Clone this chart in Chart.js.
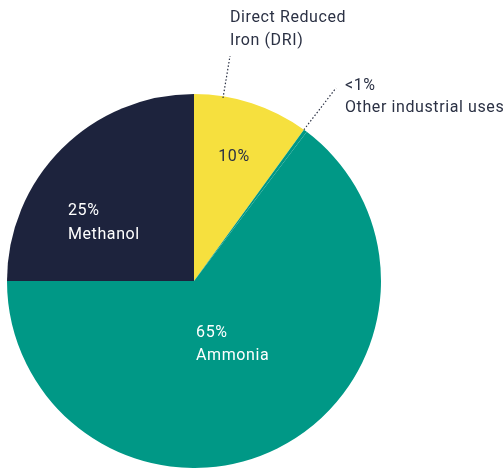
<!DOCTYPE html>
<html>
<head>
<meta charset="utf-8">
<script src="https://cdn.jsdelivr.net/npm/chart.js@4"></script>
<style>
  html, body { margin: 0; padding: 0; background: #ffffff; }
  #wrap { width: 503px; height: 468px; position: relative; }
</style>
</head>
<body>
<div id="wrap"><canvas id="pie-chart"></canvas></div>
<script>
// clockwise from 12 o'clock
const categories = ["Direct Reduced Iron (DRI)", "Other industrial uses", "Ammonia", "Methanol"];
const shares = [10, 0.3, 64.7, 25];
const shareLabels = ["10%", "<1%", "65%", "25%"];
const sliceColors = ["#f6e03e", "#009886", "#009886", "#1d233d"];

const ctx = document.getElementById("pie-chart");

// text inside the slices, offsets in units of the radius from the centre
const innerLabels = [
  { lines: ["10%"], dx: 0.214, dy: -0.663, align: "center", color: "#2b3144" },
  null,
  { lines: ["65%", "Ammonia"], dx: 0.011, dy: 0.278, align: "left", color: "#ffffff" },
  { lines: ["25%", "Methanol"], dx: -0.674, dy: -0.374, align: "left", color: "#ffffff" },
];

const labelPlugin = {
  id: "pieLabels",
  afterDraw(chart) {
    const c = chart.ctx;
    const arc = chart.getDatasetMeta(0).data[0];
    const cx = arc.x;
    const cy = arc.y;
    const r = arc.outerRadius;
    c.save();
    c.font = "16px Roboto";
    c.letterSpacing = "0.6px";
    c.textBaseline = "middle";

    innerLabels.forEach((lab) => {
      if (!lab) return;
      c.fillStyle = lab.color;
      c.textAlign = lab.align;
      lab.lines.forEach((line, i) => {
        c.fillText(line, cx + lab.dx * r, cy + lab.dy * r + i * 23.5);
      });
    });

    // outside labels
    c.fillStyle = "#2b3144";
    c.textAlign = "left";
    c.fillText("Direct Reduced", 230, 18);
    c.fillText("Iron (DRI)", 230, 41);
    c.fillText(shareLabels[1], 345, 86);
    c.fillText("Other industrial uses", 345, 108);

    // dotted leader lines
    c.strokeStyle = "#2b3144";
    c.lineWidth = 1.2;
    c.setLineDash([1.5, 2]);
    c.beginPath();
    c.moveTo(223, 98);
    c.lineTo(230, 56);
    c.stroke();

    // leader to the boundary of the tiny slice
    const other = chart.getDatasetMeta(0).data[1];
    const a = other.startAngle;
    c.beginPath();
    c.moveTo(cx + Math.cos(a) * r, cy + Math.sin(a) * r);
    c.lineTo(336, 88);
    c.stroke();
    c.restore();
  },
};

new Chart(ctx, {
  type: "pie",
  data: {
    labels: categories,
    datasets: [
      {
        data: shares,
        backgroundColor: sliceColors,
        borderWidth: 0,
      },
    ],
  },
  options: {
    responsive: true,
    maintainAspectRatio: false,
    animation: false,
    layout: {
      padding: { left: 7, top: 94, right: 122, bottom: 0 },
    },
    plugins: {
      legend: { display: false },
      tooltip: { enabled: false },
    },
  },
  plugins: [labelPlugin],
});
</script>
</body>
</html>
